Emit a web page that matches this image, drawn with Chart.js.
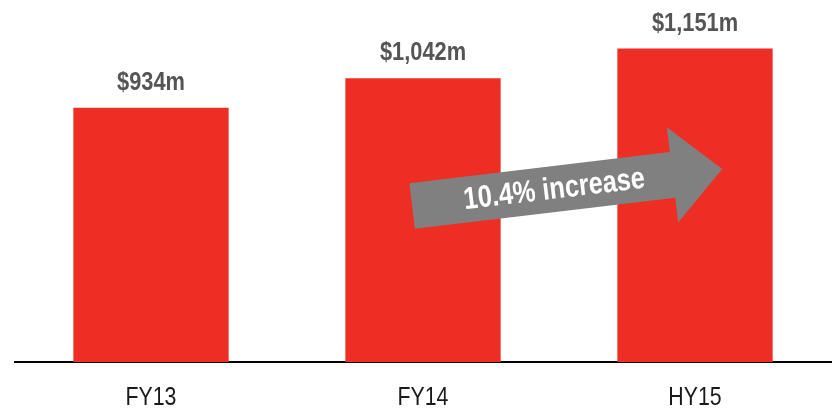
<!DOCTYPE html>
<html>
<head>
<meta charset="utf-8">
<script src="https://cdn.jsdelivr.net/npm/chart.js@4"></script>
<style>
  html, body { margin: 0; padding: 0; background: #fff; }
  #wrap { width: 834px; height: 409px; }
</style>
</head>
<body>
<div id="wrap"><canvas id="revenueChart"></canvas></div>
<script>
const periods = ['FY13', 'FY14', 'HY15'];
const revenue = [934, 1042, 1151];
const growthNote = '10.4% increase';

// arrow from just left of FY14 up to the right of HY15, in data units
const arrowFrom = [0.96, 573];
const arrowTo = [2.10, 709];

const sans = '"Liberation Sans", Arial, sans-serif';
const squeeze = 0.82; // condensed look without a narrow face installed

function narrowText(ctx, text, x, y, k = squeeze) {
    ctx.save();
    ctx.translate(x, y);
    ctx.scale(k, 1);
    ctx.fillText(text, 0, 0);
    ctx.restore();
}

const valueLabels = {
    id: 'valueLabels',
    afterDatasetsDraw(chart) {
        const { ctx } = chart;
        const meta = chart.getDatasetMeta(0);
        ctx.save();
        ctx.font = 'bold 26px ' + sans;
        ctx.fillStyle = '#555555';
        ctx.textAlign = 'center';
        ctx.textBaseline = 'alphabetic';
        meta.data.forEach((bar, i) => {
            narrowText(ctx, '$' + revenue[i].toLocaleString('en-US') + 'm', bar.x, bar.y - 18, 0.84);
        });
        ctx.restore();
    }
};

// category names under the axis, drawn at the scale's tick positions
const axisLabels = {
    id: 'axisLabels',
    afterDraw(chart) {
        const { ctx, scales: { x } } = chart;
        ctx.save();
        ctx.font = '26px ' + sans;
        ctx.fillStyle = '#1a1a1a';
        ctx.textAlign = 'center';
        ctx.textBaseline = 'alphabetic';
        x.ticks.forEach((t, i) => {
            narrowText(ctx, periods[i], x.getPixelForTick(i), chart.chartArea.bottom + 43);
        });
        ctx.restore();
    }
};

const growthArrow = {
    id: 'growthArrow',
    afterDatasetsDraw(chart) {
        const { ctx, scales: { x, y } } = chart;
        const x0 = x.getPixelForValue(arrowFrom[0]), y0 = y.getPixelForValue(arrowFrom[1]);
        const x1 = x.getPixelForValue(arrowTo[0]), y1 = y.getPixelForValue(arrowTo[1]);
        const len = Math.hypot(x1 - x0, y1 - y0);
        const ang = Math.atan2(y1 - y0, x1 - x0);
        const shaft = 23, head = 48, headLen = 50;

        ctx.save();
        ctx.translate(x0, y0);
        ctx.rotate(ang);
        ctx.fillStyle = '#808080';
        ctx.beginPath();
        ctx.moveTo(0, -shaft);
        ctx.lineTo(len - headLen, -shaft);
        ctx.lineTo(len - headLen, -head);
        ctx.lineTo(len, 0);
        ctx.lineTo(len - headLen, head);
        ctx.lineTo(len - headLen, shaft);
        ctx.lineTo(0, shaft);
        ctx.closePath();
        ctx.fill();

        ctx.fillStyle = '#ffffff';
        ctx.font = 'bold 31px ' + sans;
        ctx.textAlign = 'center';
        ctx.textBaseline = 'middle';
        narrowText(ctx, growthNote, (len - headLen) / 2 + 12, 1);
        ctx.restore();
    }
};

new Chart(document.getElementById('revenueChart'), {
    type: 'bar',
    data: {
        labels: periods,
        datasets: [{
            data: revenue,
            backgroundColor: '#EE2D24',
            borderWidth: 0,
            barPercentage: 0.571,
            categoryPercentage: 1
        }]
    },
    options: {
        responsive: true,
        maintainAspectRatio: false,
        animation: false,
        layout: { padding: { left: 15, right: 3, top: 8, bottom: 0 } },
        plugins: {
            legend: { display: false },
            tooltip: { enabled: false }
        },
        scales: {
            x: {
                grid: { display: false, drawTicks: false },
                border: { display: true, color: '#000000', width: 2 },
                ticks: { color: 'rgba(0,0,0,0)', font: { size: 26 } },
                afterFit(scale) { scale.height = 47; }
            },
            y: {
                display: false,
                min: 0,
                max: 1300
            }
        }
    },
    plugins: [valueLabels, growthArrow, axisLabels]
});
</script>
</body>
</html>
